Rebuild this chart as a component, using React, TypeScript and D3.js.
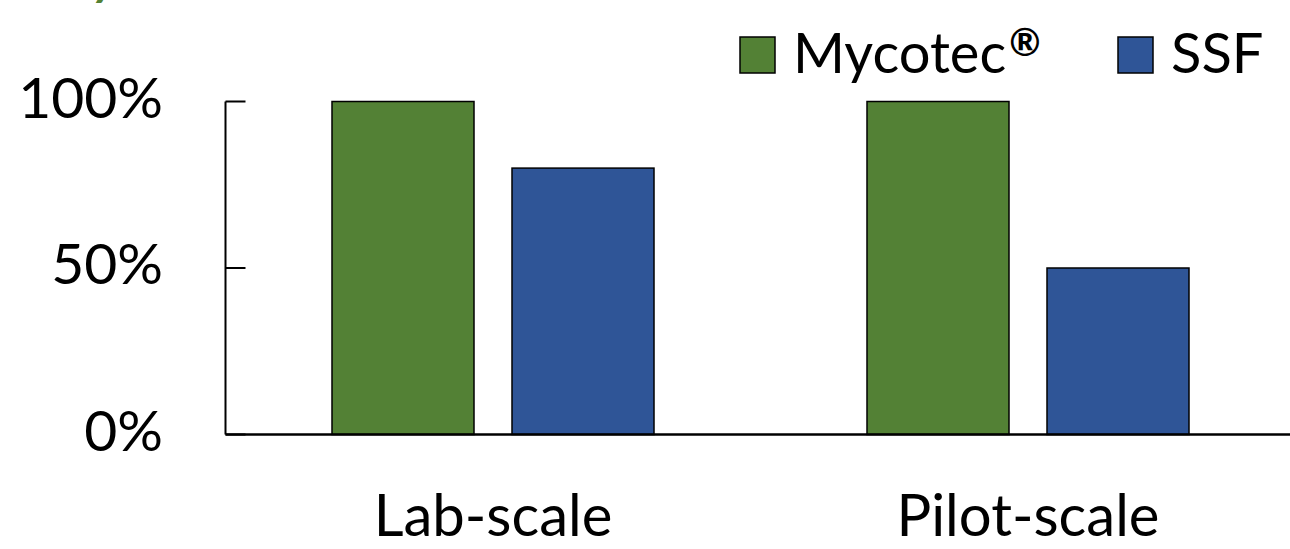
import React from "react";
import * as d3 from "d3";

const categories = ["Lab-scale", "Pilot-scale"];
const seriesNames = ["Mycotec", "SSF"];
const seriesMarks = ["®", ""];
const mycotecValues = [100, 100];
const ssfValues = [80, 50];
const yTicks = [0, 50, 100];
const colors = ["#538135", "#2F5597"];

const W = 1290;
const H = 549;
const FONT = "Lato, 'Open Sans', sans-serif";
const FS = 57;

export default function App() {
  const x0 = 225.5;
  const x = d3.scaleBand<string>().domain(categories).range([x0, x0 + 2 * 535]).paddingInner(0).paddingOuter(0);
  const y = d3.scaleLinear().domain([0, 100]).range([434.5, 101.5]);
  const barW = 142;
  const gap = 38;
  const series = [mycotecValues, ssfValues];

  return (
    <svg width={W} height={H} style={{ position: "absolute", left: 0, top: 0, background: "#fff" }}>
      <text x={94} y={-4} fontFamily={FONT} fontSize={44} fontWeight="900" fontStyle="italic" fill="#538135">y</text>
      {/* bars */}
      {categories.map((c, ci) => {
        const center = (x(c) as number) + x.bandwidth() / 2;
        const start = center - (2 * barW + gap) / 2;
        return series.map((vals, si) => (
          <rect
            key={c + si}
            x={start + si * (barW + gap)}
            y={y(vals[ci])}
            width={barW}
            height={y(0) - y(vals[ci])}
            fill={colors[si]}
            stroke="#000"
            strokeWidth={1.5}
          />
        ));
      })}
      {/* y axis */}
      <line x1={x0} x2={x0} y1={y(100)} y2={y(0)} stroke="#000" strokeWidth={2} />
      {yTicks.map((t) => (
        <g key={t}>
          <line x1={x0} x2={x0 + 20} y1={y(t)} y2={y(t)} stroke="#000" strokeWidth={2} />
          <text x={163} y={y(t) + 16} textAnchor="end" fontFamily={FONT} fontSize={FS} fill="#000">{t}%</text>
        </g>
      ))}
      {/* x axis */}
      <line x1={x0} x2={W} y1={y(0)} y2={y(0)} stroke="#000" strokeWidth={2.5} />
      {categories.map((c) => (
        <text key={c} x={(x(c) as number) + x.bandwidth() / 2} y={536} textAnchor="middle" fontFamily={FONT} fontSize={FS + 1} fill="#000">{c}</text>
      ))}
      {/* legend */}
      {seriesNames.map((s, i) => {
        const lx = [740, 1118][i];
        return (
          <g key={s}>
            <rect x={lx} y={37} width={35} height={36} fill={colors[i]} stroke="#000" strokeWidth={1.5} />
            <text x={lx + 53} y={73} fontFamily={FONT} fontSize={FS - 1} fill="#000">
              {s}
              {seriesMarks[i] ? (
                <tspan fontSize={38} fontWeight="bold" dy={-17} dx={3}>{seriesMarks[i]}</tspan>
              ) : null}
            </text>
          </g>
        );
      })}
    </svg>
  );
}
